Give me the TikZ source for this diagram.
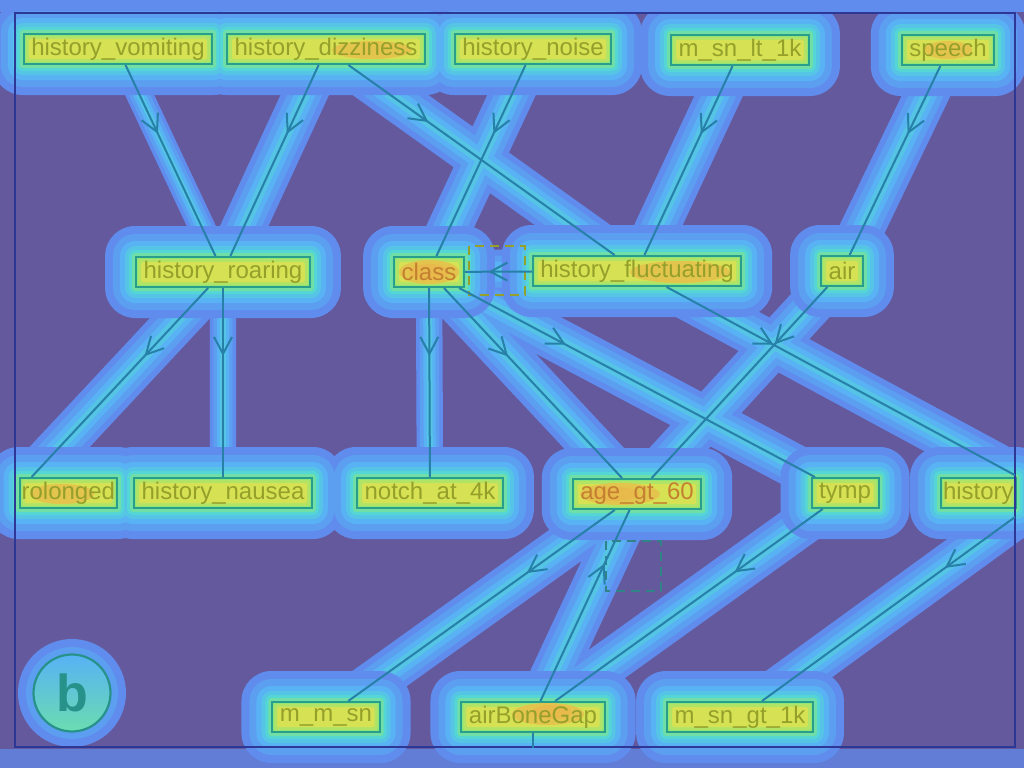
\documentclass[tikz,border=0pt]{standalone}
\usepackage{fontspec}
\setmainfont{Liberation Sans}
\usetikzlibrary{arrows.meta}
\usetikzlibrary{decorations.markings}
\usetikzlibrary{backgrounds}

\definecolor{heatbg}{RGB}{101,89,158}
\definecolor{heatA}{RGB}{96,140,238}
\definecolor{heatB}{RGB}{88,178,244}
\definecolor{heatC}{RGB}{84,214,214}
\definecolor{heatD}{RGB}{140,230,120}
\definecolor{heatE}{RGB}{214,226,84}
\definecolor{heatF}{RGB}{240,168,72}
\colorlet{heatAB}{heatA!50!heatB}
\colorlet{heatBC}{heatB!50!heatC}
\colorlet{heatCD}{heatC!50!heatD}
\colorlet{heatDE}{heatD!50!heatE}
\colorlet{heatEF}{heatE!50!heatF}
\definecolor{edgecol}{RGB}{38,128,168}
\definecolor{boxcol}{RGB}{42,158,140}
\definecolor{txtcol}{RGB}{148,160,42}
\definecolor{hottxt}{RGB}{196,128,48}
\definecolor{framecol}{RGB}{45,55,150}
\definecolor{dashcol}{RGB}{48,132,136}
\definecolor{bcol}{RGB}{38,146,138}

\tikzset{
	var/.style={draw=boxcol, line width=2pt, text=txtcol, inner xsep=7.5pt, inner ysep=0pt, minimum height=30pt, font=\fontsize{24}{28}\selectfont},
	hot/.style={text=hottxt},
	link/.style={draw=edgecol, line width=2pt},
	midarrow/.style={postaction={decorate, decoration={markings, mark=at position #1 with {\arrow[edgecol, line width=2pt]{Straight Barb[length=17pt, width=18pt]}}}}},
	midarrow/.default=0.36,
	hilite/.style={draw=dashcol, line width=2.5pt, dash pattern=on 9pt off 6pt},
}

\begin{document}
\begin{tikzpicture}[x=1pt, y=-1pt]
	\useasboundingbox (0,0) rectangle (1024,768);
	% nodes
	\node[var] (vomiting) at (118,49) {history\_vomiting};
	\node[var] (dizziness) at (326,49) {history\_dizziness};
	\node[var] (noise) at (533,49) {history\_noise};
	\node[var] (msnlt) at (740,50) {m\_sn\_lt\_1k};
	\node[var] (speech) at (948,50) {speech};
	\node[var] (roaring) at (223,272) {history\_roaring};
	\node[var, hot] (class) at (429,272) {class};
	\node[var] (fluct) at (637,271) {history\_fluctuating};
	\node[var] (air) at (842,271) {air};
	\node[var, anchor=east, inner xsep=2pt] (rolonged) at (118,493) {rolonged};
	\node[var] (nausea) at (223,493) {history\_nausea};
	\node[var] (notch) at (430,493) {notch\_at\_4k};
	\node[var, hot] (age) at (637,494) {age\_gt\_60};
	\node[var] (tymp) at (845,493) {tymp};
	\node[var, anchor=west, inner xsep=2pt] (history) at (940,493) {history};
	\node[var] (mmsn) at (326,717) {m\_m\_sn};
	\node[var] (gap) at (533,717) {airBoneGap};
	\node[var] (msngt) at (740,717) {m\_sn\_gt\_1k};
	\coordinate (historyc) at (1048,493);
	\coordinate (below) at (533,800);
	\node[circle, draw=bcol, line width=2.2pt, minimum size=77pt, inner sep=0pt, text=bcol, font=\fontsize{52}{52}\selectfont\bfseries] (panel) at (72,693) {b};

	% heat map
	\begin{scope}[on background layer]
		\fill[heatbg] (0,0) rectangle (1024,768);
		\fill[heatA] (0,0) rectangle (1024,12);
		\fill[heatA!70!heatbg] (0,749) rectangle (1024,768);
		\foreach \w/\c in {44/heatA, 32/heatAB, 20/heatB, 10/heatBC}{
			\draw[\c, line width=\w pt, line cap=round] (dizziness) -- (roaring) (dizziness) -- (fluct) (noise) -- (class) (msnlt) -- (fluct) (speech) -- (air) (fluct) -- (class) (roaring) -- ([xshift=13pt]rolonged.north west) (class) -- (age) (class) -- (tymp) (fluct) -- (historyc) (air) -- (age) (age) -- (mmsn) (gap) -- (age) (tymp) -- (gap) (historyc) -- (msngt);
			\draw[\c, line width=0.6*\w pt, line cap=round] (vomiting) -- (roaring) (roaring) -- (nausea) (class) -- (notch);
		}
		\foreach \m/\r/\c in {30/30/heatA, 22/22/heatAB, 15/15/heatB, 10/10/heatBC, 6/6/heatC, 3/3/heatCD, 0/2/heatD, -3/2/heatDE, -6/2/heatE}
			\foreach \n in {vomiting,dizziness,noise,msnlt,speech,roaring,class,fluct,air,rolonged,nausea,notch,age,tymp,history,mmsn,gap,msngt}
				\fill[\c, rounded corners=\r pt] ([shift={(-\m pt,-\m pt)}]\n.south west) rectangle ([shift={(\m pt,\m pt)}]\n.north east);
		\fill[heatA] (panel) circle (54pt);
		\fill[heatAB] (panel) circle (46pt);
		\shade[top color=heatB, bottom color=heatC!60!heatD] (panel) circle (38pt);
		\fill[heatEF] (class) ellipse (30pt and 12pt);
		\fill[heatEF] (620,494) ellipse (40pt and 11pt);
		\fill[heatEF] (548,714) ellipse (36pt and 11pt);
		\fill[heatEF] (680,272) ellipse (50pt and 11pt);
		\fill[heatEF] (62,494) ellipse (32pt and 10pt);
		\fill[heatEF] (948,50) ellipse (24pt and 9pt);
		\fill[heatEF] (372,50) ellipse (40pt and 9pt);
		\fill[heatF!70!heatE] (class) ellipse (20pt and 8pt);
		\fill[heatF!70!heatE] (615,494) ellipse (24pt and 7pt);
		\fill[heatF!70!heatE] (552,712) ellipse (20pt and 7pt);
	\end{scope}

	% frame and highlights
	\draw[framecol, line width=2.5pt] (15,13) rectangle (1015,747);
	\draw[hilite, draw=txtcol] (469,246) rectangle (525,295);
	\draw[hilite] (606,541) rectangle (661,591);

	% edges
	\draw[link, midarrow] (vomiting) -- (roaring);
	\draw[link, midarrow] (dizziness) -- (roaring);
	\draw[link, midarrow=0.3] (dizziness) -- (fluct);
	\draw[link, midarrow] (noise) -- (class);
	\draw[link, midarrow] (msnlt) -- (fluct);
	\draw[link, midarrow] (speech) -- (air);
	\draw[link, midarrow=0.65] (fluct) -- (class);
	\draw[link, midarrow] (roaring) -- ([xshift=13pt]rolonged.north west);
	\draw[link, midarrow] (roaring) -- (nausea);
	\draw[link, midarrow] (class) -- (notch);
	\draw[link, midarrow] (class) -- (age);
	\draw[link, midarrow=0.3] (class) -- (tymp);
	\draw[link, midarrow=0.3] (air) -- (age);
	\draw[link, midarrow=0.33] (age) -- (mmsn);
	\draw[link, midarrow=0.72] (gap) -- (age);
	\draw[link, midarrow=0.33] (tymp) -- (gap);
	\begin{scope}
		\clip (15,13) rectangle (1015,747);
		\draw[link, midarrow=0.28] (fluct) -- (historyc);
		\draw[link, midarrow=0.36] (historyc) -- (msngt);
		\draw[link] (gap) -- (below);
	\end{scope}
\end{tikzpicture}
\end{document}
